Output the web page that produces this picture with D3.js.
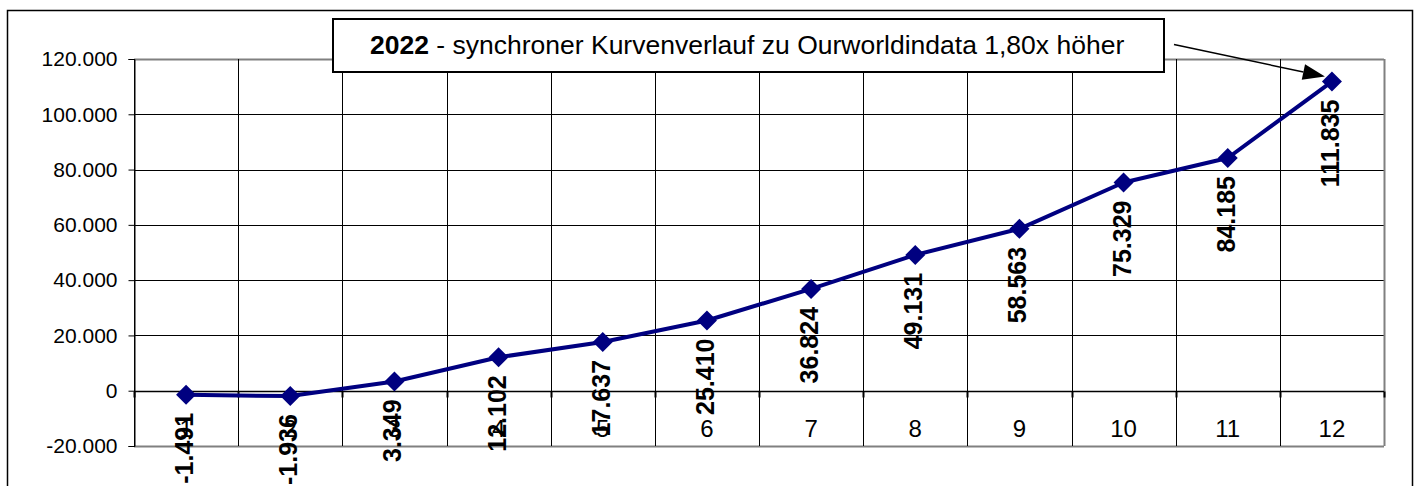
<!DOCTYPE html>
<html>
<head>
<meta charset="utf-8">
<script src="https://cdn.jsdelivr.net/npm/d3@7"></script>
<style>
  html, body { margin: 0; padding: 0; background: #fff; }
  svg { display: block; font-family: "Liberation Sans", Arial, sans-serif; }
</style>
</head>
<body>
<div id="chart"></div>
<script>
const categories = ["1", "2", "3", "4", "5", "6", "7", "8", "9", "10", "11", "12"];
const values = [-1491, -1936, 3349, 12102, 17637, 25410, 36824, 49131, 58563, 75329, 84185, 111835];
const yTicks = [-20000, 0, 20000, 40000, 60000, 80000, 100000, 120000];
const titleBold = "2022";
const titleRest = " - synchroner Kurvenverlauf zu Ourworldindata 1,80x höher";

const width = 1416, height = 486;
const plot = { left: 134, right: 1384, top: 59, bottom: 446 };

const de = d3.formatLocale({ decimal: ",", thousands: ".", grouping: [3], currency: ["", " €"], minus: "-" });
const fmt = de.format(",d");

const svg = d3.select("#chart").append("svg")
  .attr("width", width)
  .attr("height", height);

// outer chart frame
svg.append("rect")
  .attr("x", 7.5).attr("y", 10.5)
  .attr("width", 1405).attr("height", 520)
  .attr("fill", "#fff")
  .attr("stroke", "#000")
  .attr("stroke-width", 1.5);

const x = d3.scaleBand().domain(categories).range([plot.left, plot.right]);
const y = d3.scaleLinear().domain([-20000, 120000]).range([plot.bottom, plot.top]);
const cx = d => x(d) + x.bandwidth() / 2;

// horizontal grid
svg.append("g").selectAll("line")
  .data(yTicks)
  .join("line")
  .attr("x1", plot.left).attr("x2", plot.right)
  .attr("y1", d => Math.round(y(d)) + 0.5).attr("y2", d => Math.round(y(d)) + 0.5)
  .attr("stroke", d => (d === yTicks[0] || d === yTicks[yTicks.length - 1]) ? "#808080" : "#000")
  .attr("stroke-width", d => (d === yTicks[0] || d === yTicks[yTicks.length - 1]) ? 2 : 1);

// vertical grid at band boundaries
const bounds = categories.map(c => x(c)).concat([plot.right]);
svg.append("g").selectAll("line")
  .data(bounds)
  .join("line")
  .attr("x1", d => Math.round(d) + 0.5).attr("x2", d => Math.round(d) + 0.5)
  .attr("y1", plot.top).attr("y2", plot.bottom)
  .attr("stroke", (d, i) => i === bounds.length - 1 ? "#808080" : "#000")
  .attr("stroke-width", (d, i) => i === bounds.length - 1 ? 2 : 1);

// y axis
const yAxis = svg.append("g")
  .attr("transform", `translate(${plot.left + 0.5},0)`)
  .call(d3.axisLeft(y).tickValues(yTicks).tickSize(6).tickPadding(11).tickFormat(fmt));
yAxis.select(".domain").attr("stroke", "#000");
yAxis.selectAll(".tick line").attr("stroke", "#000");
yAxis.selectAll("text")
  .attr("font-size", 21)
  .attr("font-family", "'Liberation Sans', Arial, sans-serif")
  .attr("fill", "#000");

// x axis line at zero with small tick marks
const y0 = Math.round(y(0)) + 0.5;
svg.append("line")
  .attr("x1", plot.left).attr("x2", plot.right)
  .attr("y1", y0).attr("y2", y0)
  .attr("stroke", "#000").attr("stroke-width", 1.5);
svg.append("g").selectAll("line")
  .data(bounds)
  .join("line")
  .attr("x1", d => Math.round(d) + 0.5).attr("x2", d => Math.round(d) + 0.5)
  .attr("y1", y0).attr("y2", y0 + 6)
  .attr("stroke", "#000").attr("stroke-width", 2);

// category labels
svg.append("g").selectAll("text")
  .data(categories)
  .join("text")
  .attr("x", d => cx(d))
  .attr("y", 437)
  .attr("text-anchor", "middle")
  .attr("font-size", 24)
  .attr("fill", "#000")
  .text(d => d);

// line + markers
const pts = categories.map((c, i) => ({ c, v: values[i] }));
svg.append("path")
  .datum(pts)
  .attr("fill", "none")
  .attr("stroke", "#000080")
  .attr("stroke-width", 4)
  .attr("stroke-linejoin", "round")
  .attr("d", d3.line().x(d => cx(d.c)).y(d => y(d.v)));

svg.append("g").selectAll("path")
  .data(pts)
  .join("path")
  .attr("transform", d => `translate(${cx(d.c)},${y(d.v)})`)
  .attr("d", "M0,-10L10,0L0,10L-10,0Z")
  .attr("fill", "#000080");

// data labels
svg.append("g").selectAll("text")
  .data(pts)
  .join("text")
  .attr("transform", d => `translate(${cx(d.c) + 7},${y(d.v) + 18}) rotate(-90)`)
  .attr("text-anchor", "end")
  .attr("font-size", 25)
  .attr("font-weight", "bold")
  .attr("fill", "#000")
  .text(d => fmt(d.v));

// annotation box
svg.append("rect")
  .attr("x", 333).attr("y", 19)
  .attr("width", 831).attr("height", 53)
  .attr("fill", "#fff")
  .attr("stroke", "#000")
  .attr("stroke-width", 2);

const t = svg.append("text")
  .attr("x", 370).attr("y", 54)
  .attr("font-size", 26.5)
  .attr("fill", "#000");
t.append("tspan").attr("font-weight", "bold").text(titleBold);
t.append("tspan").text(titleRest);

// arrow to last point
const last = pts[pts.length - 1];
const tipX = cx(last.c) - 7, tipY = y(last.v) - 5;
const startX = 1174, startY = 44.5;
const ang = Math.atan2(tipY - startY, tipX - startX);
const headLen = 22, headHalf = 8;
const baseX = tipX - headLen * Math.cos(ang), baseY = tipY - headLen * Math.sin(ang);
svg.append("line")
  .attr("x1", startX).attr("y1", startY)
  .attr("x2", baseX).attr("y2", baseY)
  .attr("stroke", "#000").attr("stroke-width", 1.5);
svg.append("path")
  .attr("d", `M${tipX},${tipY}` +
    `L${baseX - headHalf * Math.sin(ang)},${baseY + headHalf * Math.cos(ang)}` +
    `L${baseX + headHalf * Math.sin(ang)},${baseY - headHalf * Math.cos(ang)}Z`)
  .attr("fill", "#000");
</script>
</body>
</html>
